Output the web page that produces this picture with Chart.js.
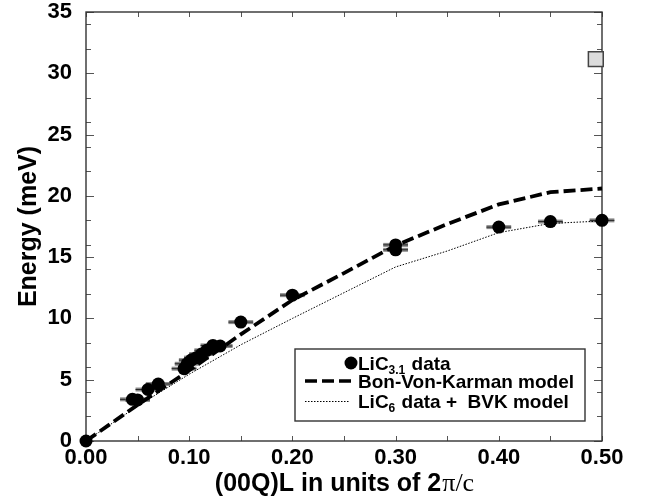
<!DOCTYPE html>
<html>
<head>
<meta charset="utf-8">
<script src="https://cdn.jsdelivr.net/npm/chart.js@4.4.0/dist/chart.umd.min.js"></script>
<style>
    html, body { margin: 0; padding: 0; background: #fff; }
</style>
</head>
<body>
<canvas id="chart1" width="645" height="504"></canvas>
<script>
// LiC3.1 data (measured points, horizontal error in Q)
const qLic31 = [0, 0.045, 0.05, 0.06, 0.07, 0.095, 0.098, 0.102, 0.107, 0.112, 0.117, 0.123, 0.13, 0.15, 0.2, 0.3, 0.3, 0.4, 0.45, 0.5];
const eLic31 = [0, 3.4, 3.35, 4.2, 4.65, 5.9, 6.3, 6.6, 6.8, 7.1, 7.4, 7.8, 7.75, 9.7, 11.9, 15.6, 16.0, 17.45, 17.9, 18.0];
const qErr = [0, 0.012, 0.012, 0.012, 0.012, 0.012, 0.012, 0.012, 0.012, 0.012, 0.012, 0.012, 0.012, 0.012, 0.012, 0.012, 0.012, 0.012, 0.012, 0.012];

// model curves
const qModel = [0, 0.05, 0.1, 0.15, 0.2, 0.25, 0.3, 0.35, 0.4, 0.45, 0.5];
const eBvk = [0, 2.95, 5.75, 8.7, 11.5, 13.7, 15.95, 17.7, 19.3, 20.3, 20.6];
const eLic6 = [0, 2.85, 5.45, 7.85, 10.0, 12.1, 14.2, 15.5, 17.0, 17.75, 17.95];

// single grey square
const qSquare = [0.494];
const eSquare = [31.15];

const xTicks = [0, 0.1, 0.2, 0.3, 0.4, 0.5];
const xMinor = [0.05, 0.15, 0.25, 0.35, 0.45];
const yTicks = [0, 5, 10, 15, 20, 25, 30, 35];
const yMinor = [2, 4, 6, 8, 12, 14, 16, 18, 22, 24, 26, 28, 32, 34];

const FONT = "'Liberation Sans', Arial, sans-serif";

const toPoints = (xs, ys) => xs.map((x, i) => ({ x: x, y: ys[i] }));

// frame and inward ticks on all four sides
const framePlugin = {
    id: 'frame',
    beforeDatasetsDraw(chart) {
        const { ctx, chartArea: a, scales: { x, y } } = chart;
        ctx.save();
        ctx.strokeStyle = '#555';
        ctx.lineWidth = 1;
        ctx.beginPath();
        xTicks.concat(xMinor).forEach(v => {
            const px = Math.round(x.getPixelForValue(v)) + 0.5;
            ctx.moveTo(px, a.bottom); ctx.lineTo(px, a.bottom - 5);
            ctx.moveTo(px, a.top); ctx.lineTo(px, a.top + 5);
        });
        yTicks.forEach(v => {
            const py = Math.round(y.getPixelForValue(v)) + 0.5;
            ctx.moveTo(a.left, py); ctx.lineTo(a.left + 8, py);
            ctx.moveTo(a.right, py); ctx.lineTo(a.right - 8, py);
        });
        yMinor.forEach(v => {
            const py = Math.round(y.getPixelForValue(v)) + 0.5;
            ctx.moveTo(a.left, py); ctx.lineTo(a.left + 5, py);
            ctx.moveTo(a.right, py); ctx.lineTo(a.right - 5, py);
        });
        ctx.stroke();
        ctx.strokeStyle = '#333';
        ctx.lineWidth = 1.4;
        ctx.strokeRect(a.left, a.top, a.right - a.left, a.bottom - a.top);

        // error bars under the circles
        qLic31.forEach((q, i) => {
            if (!qErr[i]) return;
            const x0 = x.getPixelForValue(q - qErr[i]);
            const x1 = x.getPixelForValue(q + qErr[i]);
            const py = y.getPixelForValue(eLic31[i]);
            ctx.strokeStyle = '#8a8a8a';
            ctx.lineWidth = 4;
            ctx.beginPath(); ctx.moveTo(x0, py); ctx.lineTo(x1, py); ctx.stroke();
            ctx.strokeStyle = '#222';
            ctx.lineWidth = 1;
            ctx.beginPath(); ctx.moveTo(x0, py); ctx.lineTo(x1, py); ctx.stroke();
        });
        ctx.restore();
    }
};

// legend box and x axis title (with subscripts / mixed fonts)
const textPlugin = {
    id: 'texts',
    afterDraw(chart) {
        const ctx = chart.ctx;
        ctx.save();
        // legend
        ctx.fillStyle = '#fff';
        ctx.fillRect(295, 349, 290, 72);
        ctx.strokeStyle = '#333';
        ctx.lineWidth = 1.4;
        ctx.strokeRect(295, 349, 290, 72);

        ctx.fillStyle = '#000';
        ctx.beginPath(); ctx.arc(351, 363, 6.5, 0, Math.PI * 2); ctx.fill();

        ctx.strokeStyle = '#000';
        ctx.lineWidth = 3.5;
        ctx.setLineDash([12, 5]);
        ctx.beginPath(); ctx.moveTo(305, 381); ctx.lineTo(351, 381); ctx.stroke();
        ctx.lineWidth = 1;
        ctx.setLineDash([1.5, 1.5]);
        ctx.beginPath(); ctx.moveTo(305, 401.5); ctx.lineTo(349, 401.5); ctx.stroke();
        ctx.setLineDash([]);

        ctx.textBaseline = 'alphabetic';
        ctx.textAlign = 'left';
        const big = 'bold 19px ' + FONT;
        const small = 'bold 12px ' + FONT;
        const withSub = (x0, yb, a, sub, b) => {
            ctx.font = big; ctx.fillText(a, x0, yb);
            let xx = x0 + ctx.measureText(a).width;
            ctx.font = small; ctx.fillText(sub, xx, yb + 4);
            xx += ctx.measureText(sub).width + 1;
            ctx.font = big; ctx.fillText(b, xx, yb);
        };
        withSub(358, 369.5, 'LiC', '3.1', ' data');
        ctx.font = big; ctx.fillText('Bon-Von-Karman model', 358, 387.5);
        withSub(358, 408, 'LiC', '6', ' data +  BVK model');

        // x axis title
        const t1 = '(00Q)L in units of 2';
        const t2 = '\u03c0/c';
        const f1 = 'bold 25px ' + FONT;
        const f2 = "26px 'Liberation Serif', 'Times New Roman', serif";
        ctx.font = f1;
        const w1 = ctx.measureText(t1).width;
        ctx.font = f2;
        const w2 = ctx.measureText(t2).width;
        const x0 = 344 - (w1 + w2) / 2;
        ctx.font = f1;
        ctx.fillText(t1, x0, 491);
        ctx.font = f2;
        ctx.fillText(t2, x0 + w1 + 1, 491);
        ctx.restore();
    }
};

document.addEventListener('DOMContentLoaded', () => {
    const chart1 = document.getElementById('chart1');
    new Chart(chart1.getContext('2d'), {
        type: 'scatter',
        data: {
            datasets: [{
                label: 'LiC3.1 data',
                data: toPoints(qLic31, eLic31),
                backgroundColor: '#000',
                borderWidth: 0,
                pointRadius: 6.5,
                clip: false,
                order: 1
            }, {
                label: 'square',
                data: toPoints(qSquare, eSquare),
                pointStyle: 'rect',
                pointRadius: 10.5,
                backgroundColor: '#dcdcdc',
                borderColor: '#444',
                borderWidth: 1.5,
                clip: false,
                order: 2
            }, {
                label: 'Bon-Von-Karman model',
                data: toPoints(qModel, eBvk),
                showLine: true,
                borderColor: '#000',
                borderWidth: 3.8,
                borderDash: [12, 5],
                pointRadius: 0,
                tension: 0,
                clip: false,
                order: 3
            }, {
                label: 'LiC6 data +  BVK model',
                data: toPoints(qModel, eLic6),
                showLine: true,
                borderColor: '#000',
                borderWidth: 1,
                borderDash: [1.5, 1.5],
                pointRadius: 0,
                tension: 0,
                clip: false,
                order: 4
            }]
        },
        options: {
            responsive: false,
            devicePixelRatio: 1,
            animation: false,
            events: [],
            layout: { padding: { top: 12, right: 43, left: 0, bottom: 0 } },
            plugins: {
                legend: { display: false },
                tooltip: { enabled: false }
            },
            scales: {
                x: {
                    type: 'linear',
                    min: 0,
                    max: 0.5,
                    afterBuildTicks: s => { s.ticks = xTicks.map(v => ({ value: v })); },
                    afterFit: s => { s.height = 63; s.paddingLeft = 0; s.paddingRight = 0; },
                    grid: { display: false, drawTicks: false },
                    border: { display: false },
                    ticks: {
                        padding: 6,
                        maxRotation: 0,
                        autoSkip: false,
                        color: '#000',
                        font: { family: FONT, size: 22, weight: 'bold', lineHeight: 1 },
                        callback: v => v.toFixed(2)
                    }
                },
                y: {
                    type: 'linear',
                    min: 0,
                    max: 35,
                    afterBuildTicks: s => { s.ticks = yTicks.map(v => ({ value: v })); },
                    afterFit: s => { s.width = 86; s.paddingTop = 0; s.paddingBottom = 0; },
                    grid: { display: false, drawTicks: false },
                    border: { display: false },
                    ticks: {
                        padding: 14,
                        autoSkip: false,
                        color: '#000',
                        font: { family: FONT, size: 22, weight: 'bold', lineHeight: 1 }
                    },
                    title: {
                        display: true,
                        text: 'Energy (meV)',
                        color: '#000',
                        padding: { top: 14, bottom: 0 },
                        font: { family: FONT, size: 25, weight: 'bold', lineHeight: 1.2 }
                    }
                }
            }
        },
        plugins: [framePlugin, textPlugin]
    });
});
</script>
</body>
</html>
